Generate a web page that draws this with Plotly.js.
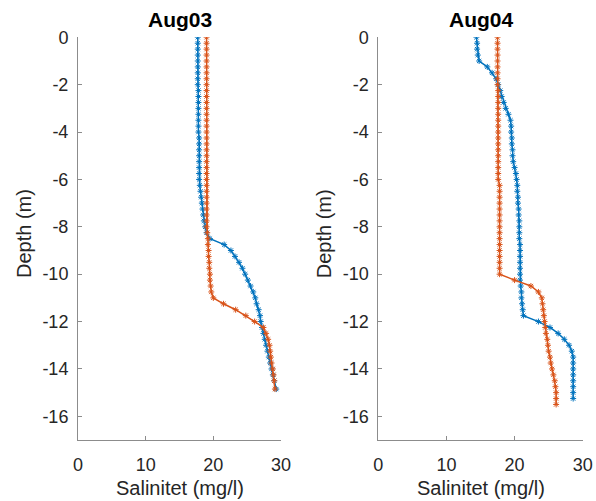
<!DOCTYPE html>
<html>
<head>
<meta charset="utf-8">
<script src="https://cdn.plot.ly/plotly-3.0.1.min.js"></script>
<style>html,body{margin:0;padding:0;background:#fff;}#chart{width:596px;height:501px;}</style>
</head>
<body>
<div id="chart"></div>
<script>
// Depth samples (m)
const depthAug03 = [0,-0.25,-0.5,-0.75,-1,-1.25,-1.5,-1.75,-2,-2.25,-2.5,-2.75,-3,-3.25,-3.5,-3.75,-4,-4.25,-4.5,-4.75,-5,-5.25,-5.5,-5.75,-6,-6.25,-6.5,-6.75,-7,-7.25,-7.5,-7.75,-8,-8.25,-8.5,-8.75,-9,-9.25,-9.5,-9.75,-10,-10.25,-10.5,-10.75,-11,-11.25,-11.5,-11.75,-12,-12.25,-12.5,-12.75,-13,-13.25,-13.5,-13.75,-14,-14.25,-14.5,-14.85];
const salAug03Blue = [17.7,17.7,17.7,17.7,17.7,17.7,17.7,17.7,17.7,17.8,17.8,17.8,17.8,17.8,17.8,17.8,17.8,17.9,17.9,17.9,17.9,17.9,17.9,17.9,17.9,18.0,18.1,18.2,18.3,18.4,18.5,18.6,18.8,19.0,19.5,21.6,22.6,23.2,23.8,24.3,24.7,25.1,25.5,25.9,26.2,26.4,26.7,26.9,27.0,27.2,27.4,27.6,27.8,28.0,28.2,28.4,28.6,28.8,29.0,29.3];
const salAug03Red = [19.0,19.0,19.0,19.0,19.0,19.0,19.0,19.0,19.0,19.0,19.0,19.0,19.0,19.0,19.0,19.0,19.0,19.0,19.0,19.0,19.0,19.0,19.0,19.0,19.0,19.0,19.0,19.0,19.0,19.0,19.0,19.0,19.0,19.1,19.2,19.2,19.3,19.3,19.4,19.4,19.5,19.5,19.6,19.7,20.0,21.5,23.3,24.8,26.1,27.4,27.8,28.1,28.3,28.4,28.5,28.6,28.8,28.9,29.0,29.1];

const depthAug04 = [0,-0.25,-0.5,-0.75,-1,-1.25,-1.5,-1.75,-2,-2.25,-2.5,-2.75,-3,-3.25,-3.5,-3.75,-4,-4.25,-4.5,-4.75,-5,-5.25,-5.5,-5.75,-6,-6.25,-6.5,-6.75,-7,-7.25,-7.5,-7.75,-8,-8.25,-8.5,-8.75,-9,-9.25,-9.5,-9.75,-10,-10.25,-10.5,-10.75,-11,-11.25,-11.5,-11.75,-12,-12.25,-12.5,-12.75,-13,-13.25,-13.5,-13.75,-14,-14.25,-14.5,-14.75,-15,-15.25,-15.5];
const salAug04Blue = [14.4,14.5,14.5,14.6,14.8,16.0,16.7,17.3,17.6,17.9,18.1,18.4,18.7,19.1,19.4,19.5,19.5,19.6,19.6,19.7,19.7,19.8,20.0,20.2,20.3,20.4,20.4,20.5,20.5,20.6,20.6,20.7,20.7,20.7,20.7,20.8,20.8,20.8,20.8,20.8,20.8,20.8,20.9,21.0,21.0,21.1,21.2,21.3,23.5,25.2,26.4,27.3,28.0,28.4,28.6,28.6,28.6,28.6,28.6,28.6,28.6,28.6];
const salAug04Red = [17.5,17.5,17.5,17.5,17.5,17.5,17.5,17.5,17.5,17.6,17.6,17.6,17.6,17.6,17.6,17.6,17.6,17.6,17.6,17.6,17.6,17.6,17.6,17.6,17.6,17.8,17.8,17.8,17.8,17.8,17.8,17.8,17.8,17.8,17.8,17.8,17.8,17.8,17.8,17.8,17.8,20.0,22.4,23.5,24.0,24.1,24.2,24.3,24.4,24.5,24.6,24.8,24.9,25.0,25.2,25.3,25.5,25.7,25.9,26.0,26.1,26.1,26.1];

const panelTitles = ['Aug03', 'Aug04'];
const xTicks = [0, 10, 20, 30];
const yTicks = [0, -2, -4, -6, -8, -10, -12, -14, -16];
const yTickText = ['0', '-2', '-4', '-6', '-8', '-10', '-12', '-14', '-16'];
const xLabel = 'Salinitet (mg/l)';
const yLabel = 'Depth (m)';

const BLUE = '#0072BD', RED = '#D95319';
function series(x, y, color, xa, ya) {
  return {
    x: x, y: y, xaxis: xa, yaxis: ya, type: 'scatter', mode: 'lines+markers',
    line: {color: color, width: 1.5},
    marker: {symbol: 'asterisk-open', size: 5, color: color, line: {color: color, width: 1}},
    hoverinfo: 'x+y'
  };
}
const traces = [
  series(salAug03Blue, depthAug03, BLUE, 'x', 'y'),
  series(salAug03Red, depthAug03, RED, 'x', 'y'),
  series(salAug04Blue, depthAug04.slice(0, salAug04Blue.length), BLUE, 'x2', 'y2'),
  series(salAug04Red, depthAug04, RED, 'x2', 'y2')
];

const W = 596, H = 501;
const AX = '#8c8c8c', TXT = '#262626';
const FONT = 'Liberation Sans, Arial, sans-serif';
function xAxis(d0, d1, anchor) {
  return {domain: [d0 / W, d1 / W], range: [0, 30], tickvals: xTicks, anchor: anchor,
    showline: true, linecolor: AX, linewidth: 1, ticks: 'inside', ticklen: 4, tickcolor: AX,
    showgrid: false, zeroline: false, fixedrange: true, ticklabelstandoff: 8,
    tickfont: {family: FONT, size: 18, color: TXT}};
}
function yAxis(anchor) {
  return {domain: [1 - 440 / H, 1 - 37.3 / H], range: [-17, 0], tickvals: yTicks, ticktext: yTickText,
    anchor: anchor,
    showline: true, linecolor: AX, linewidth: 1, ticks: 'inside', ticklen: 4, tickcolor: AX,
    showgrid: false, zeroline: false, fixedrange: true, ticklabelstandoff: 5,
    tickfont: {family: FONT, size: 18, color: TXT}};
}
const panels = [[78, 281], [378.3, 582.7]];
function ann(text, px, py, opts) {
  return Object.assign({text: text, x: px / W, y: 1 - py / H, xref: 'paper', yref: 'paper',
    showarrow: false, xanchor: 'center', yanchor: 'middle',
    font: {family: FONT, size: 20, color: TXT}}, opts || {});
}
const annotations = [];
panels.forEach(function (p, i) {
  const cx = (p[0] + p[1]) / 2;
  annotations.push(ann('<b>' + panelTitles[i] + '</b>', cx + 0.5, 20, {font: {family: FONT, size: 21, color: '#000'}}));
  annotations.push(ann(xLabel, cx, 488));
  annotations.push(ann(yLabel, p[0] - 54, 234, {textangle: -90}));
});

const layout = {
  width: W, height: H, margin: {l: 0, r: 0, t: 0, b: 0},
  paper_bgcolor: '#fff', plot_bgcolor: '#fff', showlegend: false,
  xaxis: xAxis(panels[0][0], panels[0][1], 'y'),
  yaxis: yAxis('x'),
  xaxis2: xAxis(panels[1][0], panels[1][1], 'y2'),
  yaxis2: yAxis('x2'),
  annotations: annotations
};
Plotly.newPlot('chart', traces, layout, {displayModeBar: false, staticPlot: true});
</script>
</body>
</html>
